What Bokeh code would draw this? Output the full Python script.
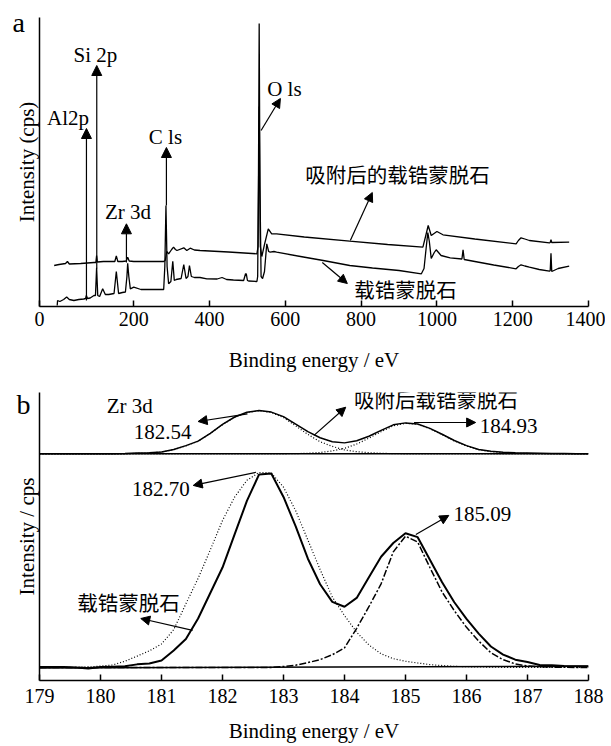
from bokeh.plotting import figure
from bokeh.models import Label, Arrow, NormalHead, FixedTicker, Title
from bokeh.layouts import column
from bokeh.embed import file_html
from bokeh.resources import INLINE

SERIF = "Liberation Serif, serif"
CJK = "Noto Sans CJK SC"

# ---------------- Panel a : XPS survey spectra ----------------
# 载锆蒙脱石 (lower trace)
be_lower = [-2, -1, 5, 15, 23, 30, 42, 55, 68, 73,
            75, 78, 85, 95, 99, 102, 105, 110, 118, 125,
            134, 148, 154, 160, 170, 178, 182, 184, 187, 191,
            200, 219, 250, 279, 282, 285, 288, 292, 298, 303,
            307, 312, 325, 332, 338, 343, 347, 352, 360, 375,
            393, 420, 433, 445, 463, 490, 495, 497, 500, 503,
            525, 527, 529, 531, 533, 536, 540, 545, 551, 556,
            560, 570, 577, 640, 700, 770, 830, 900, 959, 966,
            972, 976, 980, 985, 993, 998, 1011, 1035, 1066, 1069,
            1072, 1100, 1150, 1209, 1215, 1222, 1232, 1244, 1270, 1297,
            1299, 1301, 1303, 1320, 1349]
int_lower = [1, 6, 5, 7, 9.5, 7, 6, 7, 7.5, 8,
             11, 8, 8.5, 11, 11, 38.7, 11, 10, 17.7, 12,
             12, 13, 35, 13, 14, 14.5, 30, 43.3, 30, 17.7,
             19.3, 17, 17, 17, 40, 101, 40, 22.7, 25, 45.3,
             26, 27, 28, 42, 28, 30, 41, 30, 29, 29,
             27.7, 27.5, 29, 27, 26.5, 26, 32.7, 32.7, 26, 25.5,
             25, 30, 120, 283, 120, 30, 28, 35, 62.7, 55,
             54.3, 55, 54.3, 50, 46, 41, 38.5, 36, 32.7, 38,
             60, 74, 65, 48, 54, 56.7, 51, 48.7, 47.5, 56.7,
             47, 45, 41.5, 37.7, 40, 41.7, 40.5, 39.3, 37, 35.3,
             36, 53.3, 35, 38, 40.3]
# 吸附后的载锆蒙脱石 (upper trace)
be_upper = [-10, 3, 20, 25, 30, 60, 95, 100, 102, 104,
            120, 150, 154, 158, 170, 180, 184, 188, 200, 250,
            279, 283, 287, 292, 300, 305, 310, 314, 332, 340,
            349, 360, 375, 450, 525, 528, 531, 534, 538, 545,
            555, 564, 577, 650, 770, 870, 963, 970, 977, 981,
            985, 1000, 1016, 1100, 1209, 1215, 1222, 1232, 1244, 1297,
            1299, 1301, 1303, 1349]
int_upper = [41, 42, 43, 45, 42.5, 43, 44, 44, 51, 44.5,
             45, 45, 50.7, 45, 45, 45.5, 49.3, 45.5, 45, 45,
             45, 46, 55, 52.7, 57, 59.3, 57, 56, 58.7, 56,
             58.3, 56.5, 56, 54.5, 52.7, 60, 200, 60, 50, 62,
             77.7, 72.7, 72.7, 69.5, 65.3, 62, 59.3, 70, 81, 76,
             71, 75, 71.7, 67.5, 62.7, 66, 68.7, 67.5, 66, 63.7,
             64, 66.7, 64, 64.3]
survey_ticks = [-48.6, 200, 400, 600, 800, 1000, 1200, 1400]
survey_tick_labels = ["0", "200", "400", "600", "800", "1000", "1200", "1400"]

# ---------------- Panel b : Zr 3d high resolution ----------------
zr_be = [179.0, 179.2, 179.4, 179.6, 179.8, 180.0, 180.2, 180.4, 180.6, 180.8,
         181.0, 181.2, 181.4, 181.6, 181.8, 182.0, 182.2, 182.4, 182.6, 182.8,
         183.0, 183.2, 183.4, 183.6, 183.8, 184.0, 184.2, 184.4, 184.6, 184.8,
         185.0, 185.2, 185.4, 185.6, 185.8, 186.0, 186.2, 186.4, 186.6, 186.8,
         187.0, 187.2, 187.4, 187.6, 187.8, 188.0]
# 载锆蒙脱石: measured envelope, 3d5/2 fit, 3d3/2 fit
zr_before_total = [0.3, 0.3, 0.2, 0.0, -0.5, 0.2, 0.4, 0.6, 1.6, 2.0,
                   3.6, 8.7, 14.5, 25.0, 38.0, 51.0, 68.0, 85.0, 98.5, 99.0,
                   87.0, 72.0, 55.5, 42.5, 33.5, 31.0, 35.5, 46.0, 56.5, 63.5,
                   68.5, 66.5, 55.0, 43.5, 33.3, 24.8, 17.3, 10.7, 6.6, 4.0,
                   2.8, 1.3, 1.2, 0.8, 0.7, 0.6]
zr_before_fit1 = [0, 0, 0, 0.1, 0.3, 0.7, 1.3, 3.2, 5.8, 8.5,
                  12.0, 19.3, 32.5, 45.5, 60.0, 75.0, 87.0, 95.5, 99.5, 99.3,
                  92.0, 80.0, 65.0, 50.0, 36.0, 26.5, 18.0, 11.5, 7.0, 4.5,
                  3.2, 2.3, 1.5, 1.0, 0.6, 0.4, 0.3, 0.2, 0.1, 0.1,
                  0, 0, 0, 0, 0, 0]
zr_before_fit2 = [0, 0, 0, 0, 0, 0, 0, 0, 0, 0,
                  0, 0, 0, 0, 0, 0, 0, 0, 0, 0,
                  0.5, 1.2, 2.5, 4.0, 6.5, 10.0, 20.0, 31.0, 42.7, 59.0,
                  67.0, 64.0, 51.0, 38.5, 29.0, 20.5, 13.5, 7.5, 4.0, 1.8,
                  0.8, 0.4, 0.2, 0.1, 0, 0]
zr_before_base_be = [179.0, 188.0]
zr_before_base = [-0.2, 0.6]
# 吸附后载锆蒙脱石: measured envelope and the two fits
zr_after_total = [0, 0, 0, 0, 0, 0, 0.1, 0.2, 0.4, 0.6,
                  1.0, 2.2, 4.2, 6.5, 10.5, 15.0, 18.8, 21.2, 22.1, 21.3,
                  19.0, 15.2, 11.3, 8.2, 6.2, 5.6, 6.7, 9.0, 12.0, 14.8,
                  15.8, 15.2, 13.0, 10.0, 6.8, 4.2, 2.2, 1.3, 0.8, 0.5,
                  0.4, 0.3, 0.2, 0.2, 0.1, 0.1]
zr_after_fit1 = [0, 0, 0, 0, 0, 0, 0, 0, 0.3, 0.5,
                 0.9, 2.1, 4.1, 6.4, 10.4, 14.9, 18.7, 21.1, 22.0, 21.1,
                 18.5, 14.3, 9.9, 6.2, 3.8, 2.0, 1.1, 0.6, 0.3, 0.1,
                 0, 0, 0, 0, 0, 0, 0, 0, 0, 0,
                 0, 0, 0, 0, 0, 0]
zr_after_fit2 = [0, 0, 0, 0, 0, 0, 0, 0, 0, 0,
                 0, 0, 0, 0, 0, 0, 0, 0, 0, 0,
                 0, 0.1, 0.3, 0.7, 1.5, 2.8, 5.0, 8.0, 11.3, 14.3,
                 15.6, 15.0, 12.8, 9.8, 6.6, 4.0, 2.1, 1.1, 0.6, 0.3,
                 0.2, 0.1, 0.1, 0, 0, 0]
zr_after_base_be = [179.0, 188.0]
zr_after_base = [0, 0]
zr_after_offset = 109
zr_ticks = [179, 180, 181, 182, 183, 184, 185, 186, 187, 188]


def add_arrow(p, x0, y0, x1, y1, size=9):
    p.add_layout(Arrow(end=NormalHead(size=size, fill_color="black", line_color="black", line_width=1),
                       x_start=x0, y_start=y0, x_end=x1, y_end=y1,
                       line_color="black", line_width=1.2))


def add_text(p, x, y, text, size="21px", font=SERIF, align="center"):
    p.add_layout(Label(x=x, y=y, text=text, text_font=font, text_font_size=size,
                       text_align=align, text_baseline="middle", text_color="black"))


def panel_letter(text, offset, standoff):
    return Title(text=text, align="left", vertical_align="bottom", offset=offset, standoff=standoff,
                 text_font=SERIF, text_font_size="28px", text_font_style="normal", text_color="black")


def style(p, ticks, labels=None):
    p.grid.visible = False
    p.outline_line_color = None
    xa = p.xaxis[0]
    xa.ticker = FixedTicker(ticks=ticks, minor_ticks=[])
    if labels is not None:
        xa.major_label_overrides = dict(zip(ticks, labels))
    xa.major_tick_in = 6
    xa.major_tick_out = 0
    xa.minor_tick_in = 0
    xa.minor_tick_out = 0
    xa.major_tick_line_width = 1.5
    xa.axis_line_width = 1.5
    xa.major_label_standoff = 5
    xa.major_label_text_font = SERIF
    xa.major_label_text_font_size = "20px"
    xa.major_label_text_color = "black"
    xa.axis_label_text_font = SERIF
    xa.axis_label_text_font_size = "21px"
    xa.axis_label_text_font_style = "normal"
    xa.axis_label_text_color = "black"
    ya = p.yaxis[0]
    ya.ticker = FixedTicker(ticks=[], minor_ticks=[])
    ya.major_tick_in = 0
    ya.major_tick_out = 0
    ya.minor_tick_in = 0
    ya.minor_tick_out = 0
    ya.major_label_standoff = 0
    ya.axis_line_width = 1.5
    ya.axis_label_standoff = 1
    ya.axis_label_text_font = SERIF
    ya.axis_label_text_font_size = "21px"
    ya.axis_label_text_font_style = "normal"
    ya.axis_label_text_color = "black"


# ---------- figure a ----------
pa = figure(width=605, height=376, x_range=(-48.7, 1400), y_range=(0, 289),
            output_backend="svg", toolbar_location=None,
            min_border_left=39, min_border_right=17, min_border_top=17, min_border_bottom=70)
pa.title = panel_letter("a", -27, -41)
style(pa, survey_ticks, survey_tick_labels)
pa.xaxis.axis_label = "Binding energy / eV"
pa.xaxis.axis_label_standoff = 19
pa.yaxis.axis_label = "Intensity (cps)"

pa.line(be_lower, int_lower, line_color="black", line_width=1.3)
pa.line(be_upper, int_upper, line_color="black", line_width=1.3)

add_text(pa, 99, 252, "Si 2p")
add_text(pa, 26.4, 189, "Al2p")
add_text(pa, 283.6, 170, "C ls")
add_text(pa, 184.7, 95, "Zr 3d")
add_text(pa, 597.5, 218, "O ls")
add_text(pa, 896, 133, "吸附后的载锆蒙脱石", size="20.5px", font=CJK)
add_text(pa, 917, 18, "载锆蒙脱石", size="20.5px", font=CJK)

add_arrow(pa, 75.2, 6, 75.2, 178, 10)
add_arrow(pa, 102.4, 38, 102.4, 241, 10)
add_arrow(pa, 180.7, 44, 180.7, 82.7, 10)
add_arrow(pa, 286.2, 101, 286.2, 159, 10)
add_arrow(pa, 536, 176, 587, 208)
add_arrow(pa, 771.5, 66, 829.5, 114)
add_arrow(pa, 697.6, 44, 763.6, 23)

# ---------- figure b ----------
pb = figure(width=605, height=369, x_range=(179, 188), y_range=(-6.63, 140.3),
            output_backend="svg", toolbar_location=None,
            min_border_left=39, min_border_right=17, min_border_top=16, min_border_bottom=65)
pb.title = panel_letter("b", -23, -54)
style(pb, zr_ticks)
pb.xaxis.major_label_standoff = 8
pb.yaxis.axis_label = "Intensity / cps"
pb.xaxis.axis_label = "Binding energy / eV"
pb.xaxis.axis_label_standoff = 13

after = lambda arr: [v + zr_after_offset for v in arr]
pb.line(zr_after_base_be, after(zr_after_base), line_color="black", line_width=1.5)
pb.line(zr_be, after(zr_after_fit1), line_color="black", line_width=1.2, line_dash="1 2")
pb.line(zr_be, after(zr_after_fit2), line_color="black", line_width=1.2, line_dash="1 2")
pb.line(zr_be, after(zr_after_total), line_color="black", line_width=1.5)

pb.line(zr_before_base_be, zr_before_base, line_color="black", line_width=1.5)
pb.line(zr_be, zr_before_fit1, line_color="black", line_width=1.2, line_dash="1 2")
pb.line(zr_be, zr_before_fit2, line_color="black", line_width=1.5, line_dash="7 2 2 2")
pb.line(zr_be, zr_before_total, line_color="black", line_width=2)

add_text(pb, 180.48, 133.2, "Zr 3d")
add_text(pb, 181.02, 119.9, "182.54")
add_text(pb, 185.5, 137.2, "吸附后载锆蒙脱石", size="20.5px", font=CJK)
add_text(pb, 186.69, 123.0, "184.93")
add_text(pb, 180.99, 91.3, "182.70")
add_text(pb, 186.26, 78.4, "185.09")
add_text(pb, 180.46, 33.2, "载锆蒙脱石", size="20.5px", font=CJK)

add_arrow(pb, 182.41, 129.4, 181.6, 125.5)
add_arrow(pb, 183.5, 118.4, 184.02, 132.8)
add_arrow(pb, 185.14, 125.0, 186.15, 125.0)
add_arrow(pb, 182.55, 99.6, 181.52, 92.9)
add_arrow(pb, 185.17, 67.9, 185.71, 77.6)
add_arrow(pb, 181.51, 18.9, 180.66, 25.0)

layout = column(pa, pb)
open("out.html", "w").write(file_html(layout, INLINE))
